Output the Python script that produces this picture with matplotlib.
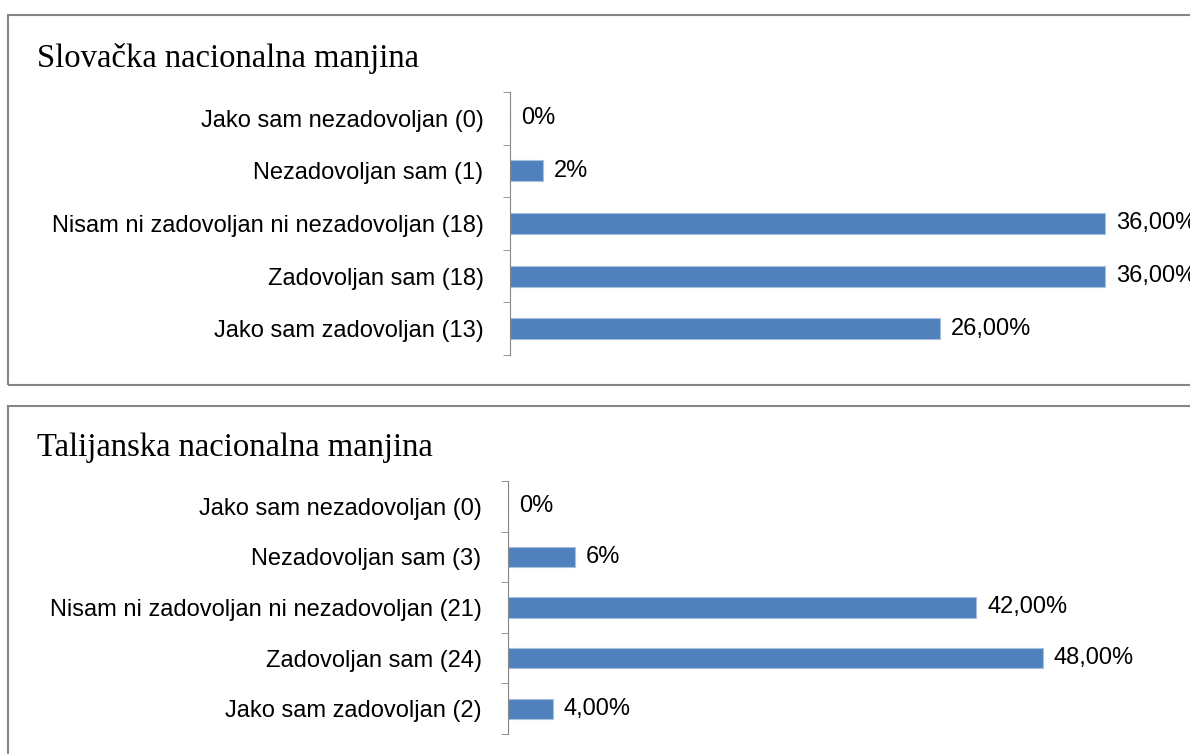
import matplotlib.pyplot as plt
from matplotlib.patches import Rectangle

# data
categories_sk = ['Jako sam nezadovoljan (0)', 'Nezadovoljan sam (1)',
                 'Nisam ni zadovoljan ni nezadovoljan (18)', 'Zadovoljan sam (18)',
                 'Jako sam zadovoljan (13)']
values_sk = [0, 2, 36, 36, 26]
labels_sk = ['0%', '2%', '36,00%', '36,00%', '26,00%']

categories_it = ['Jako sam nezadovoljan (0)', 'Nezadovoljan sam (3)',
                 'Nisam ni zadovoljan ni nezadovoljan (21)', 'Zadovoljan sam (24)',
                 'Jako sam zadovoljan (2)']
values_it = [0, 6, 42, 48, 4]
labels_it = ['0%', '6%', '42,00%', '48,00%', '4,00%']

titles = ['Slovačka nacionalna manjina', 'Talijanska nacionalna manjina']

W, H = 1190, 754
BAR_COLOR = '#4F81BD'
GRAY = '#868686'
LABEL_FONT = 'Liberation Sans'
LABEL_SIZE = 17


def px_rect(x0, y0, x1, y1):
    return [x0 / W, 1 - y1 / H, (x1 - x0) / W, (y1 - y0) / H]


def draw_panel(fig, box, title, title_xy, ax_box, xmax, cats, vals, labels):
    # outer frame of the chart
    bx0, by0, bx1, by1 = box
    fig.patches.append(Rectangle((bx0 / W, 1 - by1 / H), (bx1 - bx0) / W, (by1 - by0) / H,
                                 transform=fig.transFigure, fill=False,
                                 edgecolor=GRAY, linewidth=1.5))
    fig.text(title_xy[0] / W, 1 - title_xy[1] / H, title, family='Liberation Serif',
             fontsize=23.5, va='center', ha='left')

    ax = fig.add_axes(px_rect(*ax_box))
    y = list(range(len(cats)))
    ax.barh(y, vals, height=0.4, color=BAR_COLOR, edgecolor='#A7C0DE', linewidth=0.8)
    ax.set_xlim(0, xmax)
    ax.set_ylim(len(cats) - 0.5, -0.5)
    for yi, v, lab in zip(y, vals, labels):
        ax.text(v + xmax * 0.016, yi, lab, va='center', ha='left',
                family=LABEL_FONT, fontsize=LABEL_SIZE, clip_on=False)

    for s in ['top', 'right', 'bottom']:
        ax.spines[s].set_visible(False)
    ax.spines['left'].set_color(GRAY)
    ax.set_xticks([])
    ax.set_yticks(y)
    ax.set_yticklabels(cats, family=LABEL_FONT, fontsize=LABEL_SIZE)
    ax.tick_params(axis='y', which='major', length=0, pad=19)
    ax.set_yticks([i - 0.5 for i in range(len(cats) + 1)], minor=True)
    ax.tick_params(axis='y', which='minor', length=5, color=GRAY, direction='out')
    return ax


fig = plt.figure(figsize=(W / 100, H / 100), dpi=100)

draw_panel(fig, (8, 15, 1200, 385), titles[0], (37, 58),
           (510, 92, 1180, 355), (1180 - 510) / 16.53,
           categories_sk, values_sk, labels_sk)
draw_panel(fig, (8, 406, 1200, 770), titles[1], (37, 448),
           (508, 481, 1180, 734), (1180 - 508) / 11.15,
           categories_it, values_it, labels_it)

fig.savefig('out.png', dpi=100)
